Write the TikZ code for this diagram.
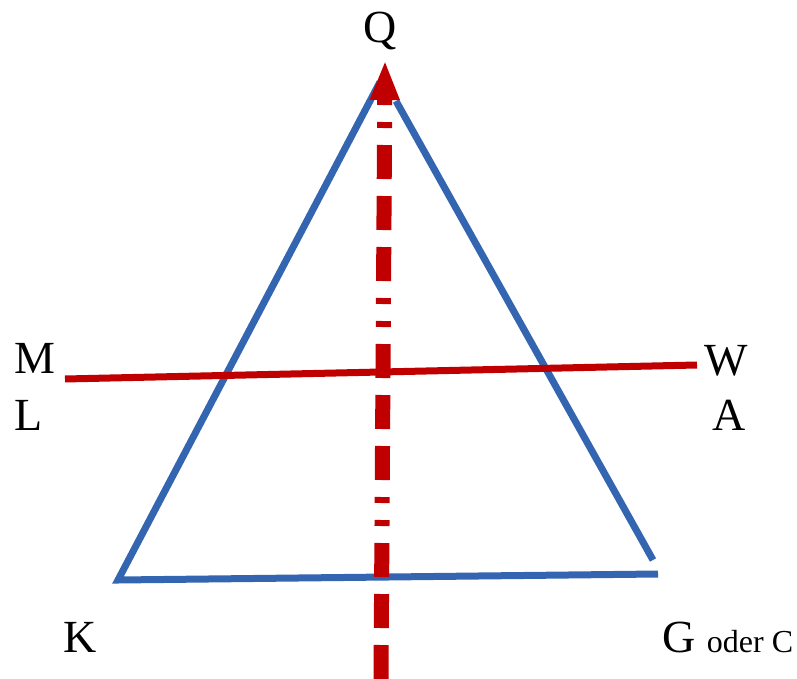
\documentclass[tikz,border=0pt]{standalone}
\usepackage{fontspec}
\setmainfont{Liberation Serif}
\usetikzlibrary{arrows.meta}
\definecolor{triblue}{RGB}{52,101,176}
\definecolor{axred}{RGB}{192,0,0}
\begin{document}
\begin{tikzpicture}[x=1pt,y=-1pt,
  lbl/.style={inner sep=0pt, anchor=base, font=\fontsize{46pt}{55pt}\selectfont},
  side/.style={draw=triblue, line width=7pt},
  axisline/.style={draw=axred, line width=15pt,
    dash pattern=on 34pt off 17pt on 34pt off 17pt on 34pt off 17pt on 6pt off 17pt on 6pt off 17pt,
    -{Triangle[length=40pt,width=27pt]}},
  bar/.style={draw=axred, line width=7pt}]
\useasboundingbox (0,0) rectangle (797,679);
\coordinate (apexL) at (380,82);
\coordinate (kc) at (118,580);
\coordinate (gb) at (658,574);
\coordinate (apexR) at (396,101);
\coordinate (gr) at (653,560);
\coordinate (ml) at (65,379);
\coordinate (wa) at (697,365);
\coordinate (foot) at (381,679);
\coordinate (tip) at (385,60);

\draw[side] (apexL) -- (kc) -- (gb);
\draw[side] (apexR) -- (gr);
\draw[bar] (ml) -- (wa);
\draw[axisline] (foot) -- (tip);

\node[lbl] (q) at (380,42.5) {Q};
\node[lbl] (m) at (35,373) {M};
\node[lbl] (l) at (29,430) {L};
\node[lbl] (w) at (726,375) {W};
\node[lbl] (a) at (729,430) {A};
\node[lbl] (k) at (80,652) {K};
\node[lbl, anchor=base west] (g) at (662,652) {G {\fontsize{32pt}{38pt}\selectfont oder C}};
\end{tikzpicture}
\end{document}
